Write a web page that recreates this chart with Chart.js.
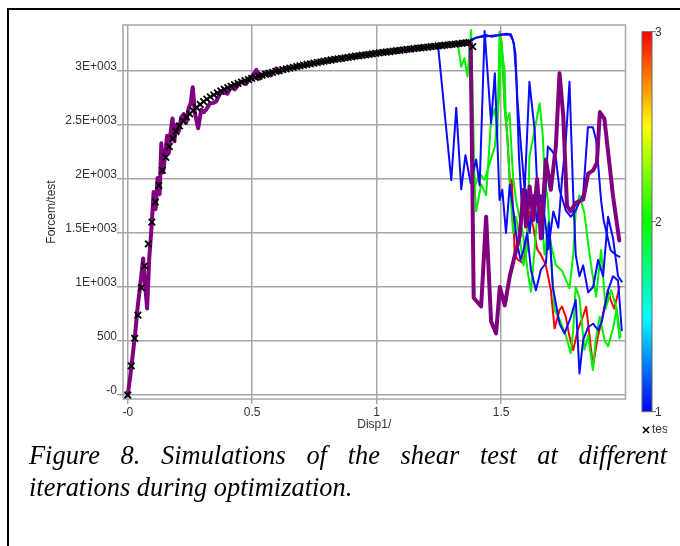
<!DOCTYPE html>
<html>
<head>
<meta charset="utf-8">
<script src="https://cdn.jsdelivr.net/npm/chart.js@4.4.1/dist/chart.umd.min.js"></script>
<style>
  html, body { margin: 0; padding: 0; background: #fff; width: 680px; height: 546px; overflow: hidden; }
  #frame { position: absolute; left: 7px; top: 8px; width: 700px; height: 600px;
           border-top: 2px solid #000; border-left: 2px solid #000; }
  #chart { position: absolute; left: 0; top: 0; }
  .cap { position: absolute; font-family: 'Liberation Serif', 'Times New Roman', serif;
         font-style: italic; font-size: 26.4px; line-height: 26.4px; color: #000; }
  #cap1 { left: 29px; top: 442.2px; width: 638px; text-align: justify; text-align-last: justify; }
  #cap2 { left: 29px; top: 473.9px; white-space: nowrap; }
</style>
</head>
<body>
<div id="frame"></div>
<canvas id="chart" width="680" height="546"></canvas>
<div class="cap" id="cap1">Figure 8. Simulations of the shear test at different</div>
<div class="cap" id="cap2">iterations during optimization.</div>
<script>
// Axis ticks
const xTicks = [0, 0.5, 1, 1.5];
const xTickLabels = ['-0', '0.5', '1', '1.5'];
const yTicks = [0, 500, 1000, 1500, 2000, 2500, 3000];
const yTickLabels = ['-0', '500', '1E+003', '1.5E+003', '2E+003', '2.5E+003', '3E+003'];

// Measured shear test (Disp1 / Force)
const testDisp = [0, 0.014, 0.028, 0.041, 0.055, 0.068, 0.083, 0.097, 0.111, 0.125, 0.139, 0.153, 0.167, 0.181, 0.194,
  0.208, 0.222, 0.236, 0.249, 0.263, 0.277, 0.291, 0.305, 0.318, 0.332, 0.346, 0.360, 0.374, 0.388, 0.402, 0.415,
  0.429, 0.443, 0.457, 0.471, 0.485, 0.498, 0.512, 0.526, 0.540, 0.554, 0.568, 0.582, 0.595, 0.609, 0.623, 0.637,
  0.651, 0.665, 0.679, 0.692, 0.706, 0.720, 0.734, 0.748, 0.762, 0.776, 0.789, 0.803, 0.817, 0.831, 0.845, 0.859,
  0.873, 0.886, 0.900, 0.914, 0.928, 0.942, 0.956, 0.970, 0.983, 0.997, 1.011, 1.025, 1.039, 1.053, 1.067, 1.080,
  1.094, 1.108, 1.122, 1.136, 1.150, 1.164, 1.177, 1.191, 1.205, 1.219, 1.233, 1.247, 1.261, 1.274, 1.288, 1.302,
  1.316, 1.330, 1.344, 1.358, 1.371, 1.386];
const testForce = [0, 270, 525, 740, 995, 1195, 1400, 1600, 1785, 1940, 2080, 2200, 2300, 2375, 2440,
  2492, 2536, 2572, 2603, 2633, 2662, 2690, 2716, 2739, 2760, 2780, 2798, 2815, 2831, 2846, 2860,
  2873, 2886, 2898, 2910, 2921, 2931, 2941, 2951, 2961, 2970, 2979, 2988, 2996, 3004, 3012, 3020,
  3027, 3034, 3041, 3048, 3055, 3061, 3067, 3073, 3079, 3085, 3091, 3097, 3102, 3107, 3112, 3117,
  3122, 3127, 3132, 3137, 3141, 3146, 3150, 3155, 3159, 3163, 3168, 3172, 3176, 3180, 3184, 3188,
  3192, 3196, 3200, 3203, 3207, 3211, 3214, 3218, 3221, 3225, 3228, 3232, 3235, 3239, 3242, 3246,
  3249, 3253, 3257, 3261, 3266, 3225];

// Optimised simulation (thick purple)
const optDisp = [0, 0.01, 0.02, 0.03, 0.04, 0.05, 0.062, 0.07, 0.078, 0.086, 0.097, 0.104, 0.112, 0.12, 0.128,
  0.135, 0.142, 0.15, 0.158, 0.165, 0.172, 0.18, 0.187, 0.195, 0.205, 0.215, 0.225, 0.235, 0.245, 0.253, 0.261,
  0.27, 0.283, 0.295, 0.306, 0.316, 0.33, 0.345, 0.356, 0.37, 0.385, 0.4, 0.415, 0.43, 0.445, 0.46, 0.475, 0.49,
  0.503, 0.517, 0.53, 0.545, 0.56, 0.575, 0.597, 0.61, 0.625, 0.65, 0.68, 0.72, 0.76, 0.8, 0.85, 0.9, 0.95, 1.0,
  1.05, 1.1, 1.15, 1.2, 1.25, 1.3, 1.35, 1.378, 1.39, 1.42, 1.44, 1.46, 1.48, 1.495, 1.515, 1.535, 1.555, 1.575,
  1.59, 1.60, 1.615, 1.63, 1.645, 1.66, 1.68, 1.70, 1.72, 1.735, 1.75, 1.765, 1.78, 1.80, 1.83, 1.85, 1.87,
  1.885, 1.897, 1.915, 1.95, 1.975];
const optForce = [0, 170, 370, 570, 820, 1010, 1265, 1020, 800, 1250, 1600, 1880, 1720, 2010, 1860,
  2330, 2060, 2210, 2400, 2240, 2430, 2560, 2350, 2500, 2440, 2570, 2600, 2520, 2660, 2700, 2850,
  2610, 2470, 2640, 2620, 2645, 2700, 2705, 2720, 2790, 2805, 2790, 2855, 2830, 2875, 2905, 2880, 2935,
  2960, 3010, 2930, 2965, 2995, 2960, 3025, 2990, 3020, 3030, 3040, 3058, 3078, 3095, 3115, 3132, 3150, 3164,
  3180, 3194, 3207, 3220, 3233, 3246, 3259, 3266, 900, 820, 1650, 680, 570, 1000, 830, 1100, 1290, 1470,
  1900, 1560, 1930, 1620, 2000, 1450, 2180, 1900, 2300, 2980, 2580, 1750, 1700, 1780, 1810, 2050, 2080,
  2150, 2620, 2560, 1840, 1430];

// Iteration 1 runs (blue)
const it1aDisp = [1.247, 1.30, 1.32, 1.34, 1.357, 1.378, 1.40, 1.414, 1.434, 1.46, 1.475, 1.494, 1.505, 1.52,
  1.535, 1.55, 1.565, 1.578, 1.59, 1.605, 1.62, 1.64, 1.66, 1.68, 1.693, 1.708, 1.735, 1.755, 1.78, 1.80, 1.815,
  1.83, 1.85, 1.87, 1.89, 1.905, 1.93, 1.95, 1.97, 1.985];
const it1aForce = [3232, 1990, 2660, 1905, 2220, 1960, 2180, 1940, 3370, 2515, 2980, 1805, 1900, 1500,
  1950, 1700, 1400, 1250, 1340, 1500, 1160, 970, 1160, 1220, 1600, 1000, 660, 570, 720, 880, 200,
  510, 630, 660, 600, 680, 970, 1100, 1060, 600];
const it1bDisp = [1.358, 1.39, 1.44, 1.46, 1.50, 1.535, 1.548, 1.558, 1.565, 1.58, 1.595, 1.614, 1.635, 1.65,
  1.668, 1.688, 1.705, 1.72, 1.735, 1.76, 1.78, 1.80, 1.83, 1.849, 1.869, 1.882, 1.902, 1.912, 1.94, 1.96, 1.976];
const it1bForce = [3261, 3300, 3335, 3318, 3335, 3335, 3285, 3160, 2760, 2300, 1900, 2900, 2450, 1700,
  1450, 2300, 2260, 2200, 1900, 1710, 1650, 1710, 1860, 2480, 2480, 2360, 1800, 1620, 1340, 1300, 1280];
const it1cDisp = [1.371, 1.40, 1.48, 1.52, 1.54, 1.552, 1.562, 1.572, 1.585, 1.60, 1.615, 1.63, 1.645, 1.66,
  1.675, 1.69, 1.71, 1.73, 1.745, 1.76, 1.775, 1.79, 1.80, 1.815, 1.83, 1.85, 1.87, 1.89, 1.91, 1.93, 1.95, 1.97, 1.985];
const it1cForce = [3266, 3310, 3330, 3345, 3340, 3250, 2900, 2200, 1700, 1900, 1500, 1850, 1600, 1850,
  1650, 1350, 1700, 1550, 2000, 2350, 2900, 1850, 1300, 1100, 1200, 950, 1000, 1250, 1100, 1650, 1450, 1100, 1050];

// Iteration 2 runs (green)
const it2aDisp = [1.316, 1.327, 1.34, 1.353, 1.365, 1.38, 1.394, 1.414, 1.434, 1.454, 1.475, 1.494, 1.50, 1.514,
  1.52, 1.534, 1.548, 1.56, 1.568, 1.588, 1.608, 1.62, 1.635, 1.65, 1.662, 1.675, 1.69, 1.70, 1.72, 1.745, 1.775,
  1.79, 1.80, 1.815, 1.835, 1.85, 1.865, 1.882, 1.902, 1.92, 1.942, 1.962, 1.976];
const it2aForce = [3249, 3240, 3040, 3118, 2950, 3380, 1925, 2053, 1991, 2145, 2300, 2824, 3225, 3010,
  2516, 2609, 2022, 1806, 1713, 1497, 1127, 957, 1350, 1800, 1650, 1300, 1590, 1400, 1204, 1150, 988,
  1300, 1700, 1850, 1682, 1400, 1150, 910, 1343, 800, 972, 818, 525];
const it2bDisp = [1.371, 1.376, 1.385, 1.40, 1.42, 1.44, 1.46, 1.475, 1.485, 1.494, 1.503, 1.515, 1.525, 1.537,
  1.548, 1.56, 1.575, 1.59, 1.605, 1.614, 1.635, 1.655, 1.668, 1.675, 1.688, 1.70, 1.715, 1.735, 1.762, 1.78,
  1.79, 1.80, 1.815, 1.835, 1.85, 1.869, 1.88, 1.896, 1.916, 1.93, 1.95, 1.965, 1.98];
const it2bForce = [3266, 3000, 2300, 1700, 1950, 1850, 2550, 2650, 2400, 3360, 3250, 2650, 2400, 1900,
  1500, 1650, 1450, 1200, 1350, 2207, 2454, 2701, 2392, 2000, 1806, 1300, 787, 700, 540, 386,
  600, 1000, 900, 420, 550, 231, 500, 725, 509, 450, 620, 800, 540];

// Iteration 3 run (red)
const it3Disp = [1.494, 1.503, 1.515, 1.525, 1.537, 1.543, 1.548, 1.555, 1.568, 1.58, 1.59, 1.60, 1.615, 1.63,
  1.645, 1.66, 1.68, 1.70, 1.715, 1.735, 1.745, 1.76, 1.775, 1.79, 1.808, 1.825, 1.842, 1.855, 1.869, 1.889,
  1.905, 1.929, 1.94, 1.955, 1.976];
const it3Force = [3360, 3250, 2650, 2400, 1900, 1990, 1713, 1300, 1250, 1234, 1219, 1400, 1700, 1550,
  1350, 1300, 1200, 972, 617, 787, 820, 725, 540, 417, 602, 700, 818, 560, 262, 540,
  700, 972, 880, 800, 1003];

// Colour bar (iteration number) and its labels
const barStops = [[0, '#ff0000'], [0.25, '#ffff00'], [0.5, '#00ff00'], [0.75, '#00ffff'], [1, '#0000ff']];
const barLabels = ['3', '2', '1'];

const pts = (xs, ys) => xs.map((x, i) => ({ x: x, y: ys[i] }));

const GRID = '#a6a6a6';
Chart.defaults.font.family = "'Liberation Sans', Arial, sans-serif";
Chart.defaults.font.size = 12;
Chart.defaults.color = '#333';

const line = (label, xs, ys, color, width) => ({
  label: label, data: pts(xs, ys), showLine: true, borderColor: color, backgroundColor: color,
  borderWidth: width, pointRadius: 0, tension: 0, borderJoinStyle: 'round', borderCapStyle: 'round'
});

const decor = {
  id: 'decor',
  beforeDatasetsDraw(chart) {
    const { ctx, chartArea: a } = chart;
    ctx.save();
    ctx.strokeStyle = GRID;
    ctx.lineWidth = 1.5;
    ctx.strokeRect(a.left, a.top, a.right - a.left, a.bottom - a.top);
    ctx.restore();
  },
  afterDraw(chart) {
    const ctx = chart.ctx;
    const bx = 642, by = 31.7, bw = 10, bh = 380;
    ctx.save();
    const g = ctx.createLinearGradient(0, by, 0, by + bh);
    barStops.forEach(s => g.addColorStop(s[0], s[1]));
    ctx.fillStyle = g;
    ctx.fillRect(bx, by, bw, bh);
    ctx.strokeStyle = '#666';
    ctx.lineWidth = 1;
    ctx.strokeRect(bx, by, bw, bh);
    ctx.fillStyle = '#333';
    ctx.font = "12px 'Liberation Sans', Arial, sans-serif";
    ctx.textBaseline = 'middle';
    ctx.textAlign = 'left';
    barLabels.forEach((t, i) => {
      const y = by + bh * i / (barLabels.length - 1);
      ctx.beginPath();
      ctx.moveTo(bx + bw, y);
      ctx.lineTo(bx + bw + 4, y);
      ctx.stroke();
      ctx.fillText(t, bx + bw + 3, y + 1);
    });
    // legend entry for the measured curve
    ctx.beginPath();
    ctx.rect(0, 0, 667, 546);
    ctx.clip();
    ctx.strokeStyle = '#000';
    ctx.lineWidth = 1.6;
    const lx = 646, ly = 430;
    ctx.beginPath();
    ctx.moveTo(lx - 3, ly - 3); ctx.lineTo(lx + 3, ly + 3);
    ctx.moveTo(lx + 3, ly - 3); ctx.lineTo(lx - 3, ly + 3);
    ctx.stroke();
    ctx.fillStyle = '#333';
    ctx.fillText('test', 652, ly);
    ctx.restore();
  }
};

new Chart(document.getElementById('chart'), {
  type: 'scatter',
  data: {
    datasets: [
      { label: 'test', data: pts(testDisp, testForce), pointStyle: 'crossRot', pointRadius: 4.6,
        borderColor: '#000', backgroundColor: '#000', borderWidth: 1.8, showLine: false },
      line('optimised', optDisp, optForce, '#800080', 4),
      line('iter 1a', it1aDisp, it1aForce, '#0a0aff', 2),
      line('iter 1b', it1bDisp, it1bForce, '#0a0aff', 2),
      line('iter 1c', it1cDisp, it1cForce, '#0a0aff', 2),
      line('iter 2a', it2aDisp, it2aForce, '#00f000', 2),
      line('iter 2b', it2bDisp, it2bForce, '#00f000', 2),
      line('iter 3', it3Disp, it3Force, '#ff0000', 2)
    ]
  },
  options: {
    responsive: false,
    devicePixelRatio: 1,
    animation: false,
    layout: { padding: { left: 0, top: 25, right: 54.5, bottom: 0 } },
    plugins: { legend: { display: false }, tooltip: { enabled: false } },
    scales: {
      x: {
        type: 'linear', min: -0.019, max: 2.0,
        afterFit: s => { s.height = 147; },
        afterBuildTicks: s => { s.ticks = xTicks.map(v => ({ value: v })); },
        ticks: { padding: 1, maxRotation: 0, autoSkip: false,
                 callback: v => xTickLabels[xTicks.indexOf(v)] },
        grid: { color: GRID, lineWidth: 1.5, tickLength: 5 },
        border: { display: false },
        title: { display: true, text: 'Disp1/', color: '#333', padding: { top: 0, bottom: 114 } }
      },
      y: {
        type: 'linear', min: -37, max: 3426,
        afterFit: s => { s.width = 123; },
        afterBuildTicks: s => { s.ticks = yTicks.map(v => ({ value: v })); },
        ticks: { padding: 0, labelOffset: -4, autoSkip: false,
                 callback: v => yTickLabels[yTicks.indexOf(v)] },
        grid: { color: GRID, lineWidth: 1.5, tickLength: 6 },
        border: { display: false },
        title: { display: true, text: 'Forcem/test', color: '#333', padding: { top: 44.5, bottom: 0 } }
      }
    }
  },
  plugins: [decor]
});
</script>
</body>
</html>
